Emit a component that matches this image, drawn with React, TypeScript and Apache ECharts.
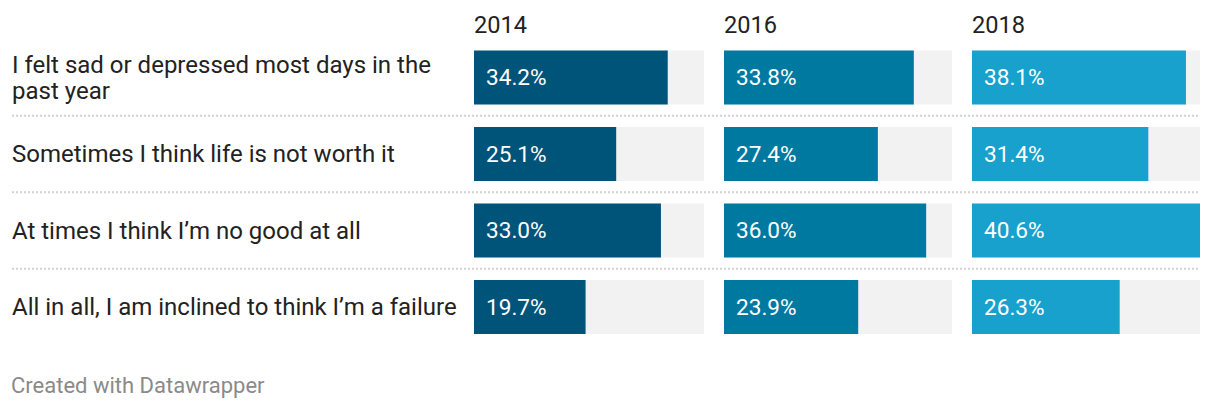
import React, { useEffect, useRef } from "react";
import * as echarts from "echarts";

const categories = [
  "I felt sad or depressed most days in the past year",
  "Sometimes I think life is not worth it",
  "At times I think I’m no good at all",
  "All in all, I am inclined to think I’m a failure",
];
const years = ["2014", "2016", "2018"];
const values2014 = [34.2, 25.1, 33.0, 19.7];
const values2016 = [33.8, 27.4, 36.0, 23.9];
const values2018 = [38.1, 31.4, 40.6, 26.3];
const seriesValues = [values2014, values2016, values2018];
const colors = ["#00547a", "#0079a1", "#18a1cd"];
const scaleMax = 40.6;

const FONT = "Roboto";
const colLeft = [474, 724, 972];
const colWidth = [230, 228, 228];
const gridTop = 39.25;
const rowH = 76.5;

export default function App() {
  const ref = useRef<HTMLDivElement>(null);
  useEffect(() => {
    if (!ref.current) return;
    const chart = echarts.init(ref.current, undefined, { renderer: "svg" });
    const gridHeight = rowH * categories.length;
    const grids = years.map((_, i) => ({
      left: colLeft[i],
      top: gridTop,
      width: colWidth[i],
      height: gridHeight,
      containLabel: false,
    }));
    const xAxes = years.map((_, i) => ({
      type: "value",
      gridIndex: i,
      min: 0,
      max: scaleMax,
      show: false,
    }));
    const yAxes = years.map((_, i) => ({
      type: "category",
      gridIndex: i,
      data: categories,
      inverse: true,
      show: i === 0,
      axisLine: { show: false },
      axisTick: { show: false },
      splitLine: { show: false },
      axisLabel: {
        show: i === 0,
        align: "left",
        margin: colLeft[0] - 12,
        fontFamily: FONT,
        fontSize: 24,
        color: "#222",
        lineHeight: 26,
        width: 471,
        overflow: "break",
      },
    }));
    const series = years.map((_, i) => ({
      type: "bar",
      xAxisIndex: i,
      yAxisIndex: i,
      data: seriesValues[i],
      barWidth: 54,
      showBackground: true,
      backgroundStyle: { color: "#f2f2f2" },
      itemStyle: { color: colors[i] },
      label: {
        show: true,
        position: "insideLeft",
        distance: 12,
        color: "#fff",
        fontFamily: FONT,
        fontSize: 22.6,
        formatter: (p: any) => Number(p.value).toFixed(1) + "%",
      },
    }));
    const titles: any[] = years.map((y, i) => ({
      text: y,
      left: colLeft[i] - 5,
      top: 8,
      textStyle: { fontFamily: FONT, fontSize: 23.6, fontWeight: "normal", color: "#222" },
    }));
    titles.push({
      text: "Created with Datawrapper",
      left: 6,
      top: 369,
      textStyle: { fontFamily: FONT, fontSize: 22, fontWeight: "normal", color: "#8a8a8a" },
    });
    const separators = [1, 2, 3].map((k) => ({
      type: "line",
      shape: { x1: 12, y1: gridTop + rowH * k, x2: 1200, y2: gridTop + rowH * k },
      style: { stroke: "#d2d2d2", lineWidth: 2, lineDash: [2, 2] },
      silent: true,
    }));
    chart.setOption({
      animation: false,
      backgroundColor: "#fff",
      title: titles,
      grid: grids,
      xAxis: xAxes,
      yAxis: yAxes,
      series,
      graphic: separators,
    });
    return () => chart.dispose();
  }, []);
  return (
    <div
      ref={ref}
      style={{ position: "absolute", left: 0, top: 0, width: 1220, height: 410 }}
    />
  );
}
